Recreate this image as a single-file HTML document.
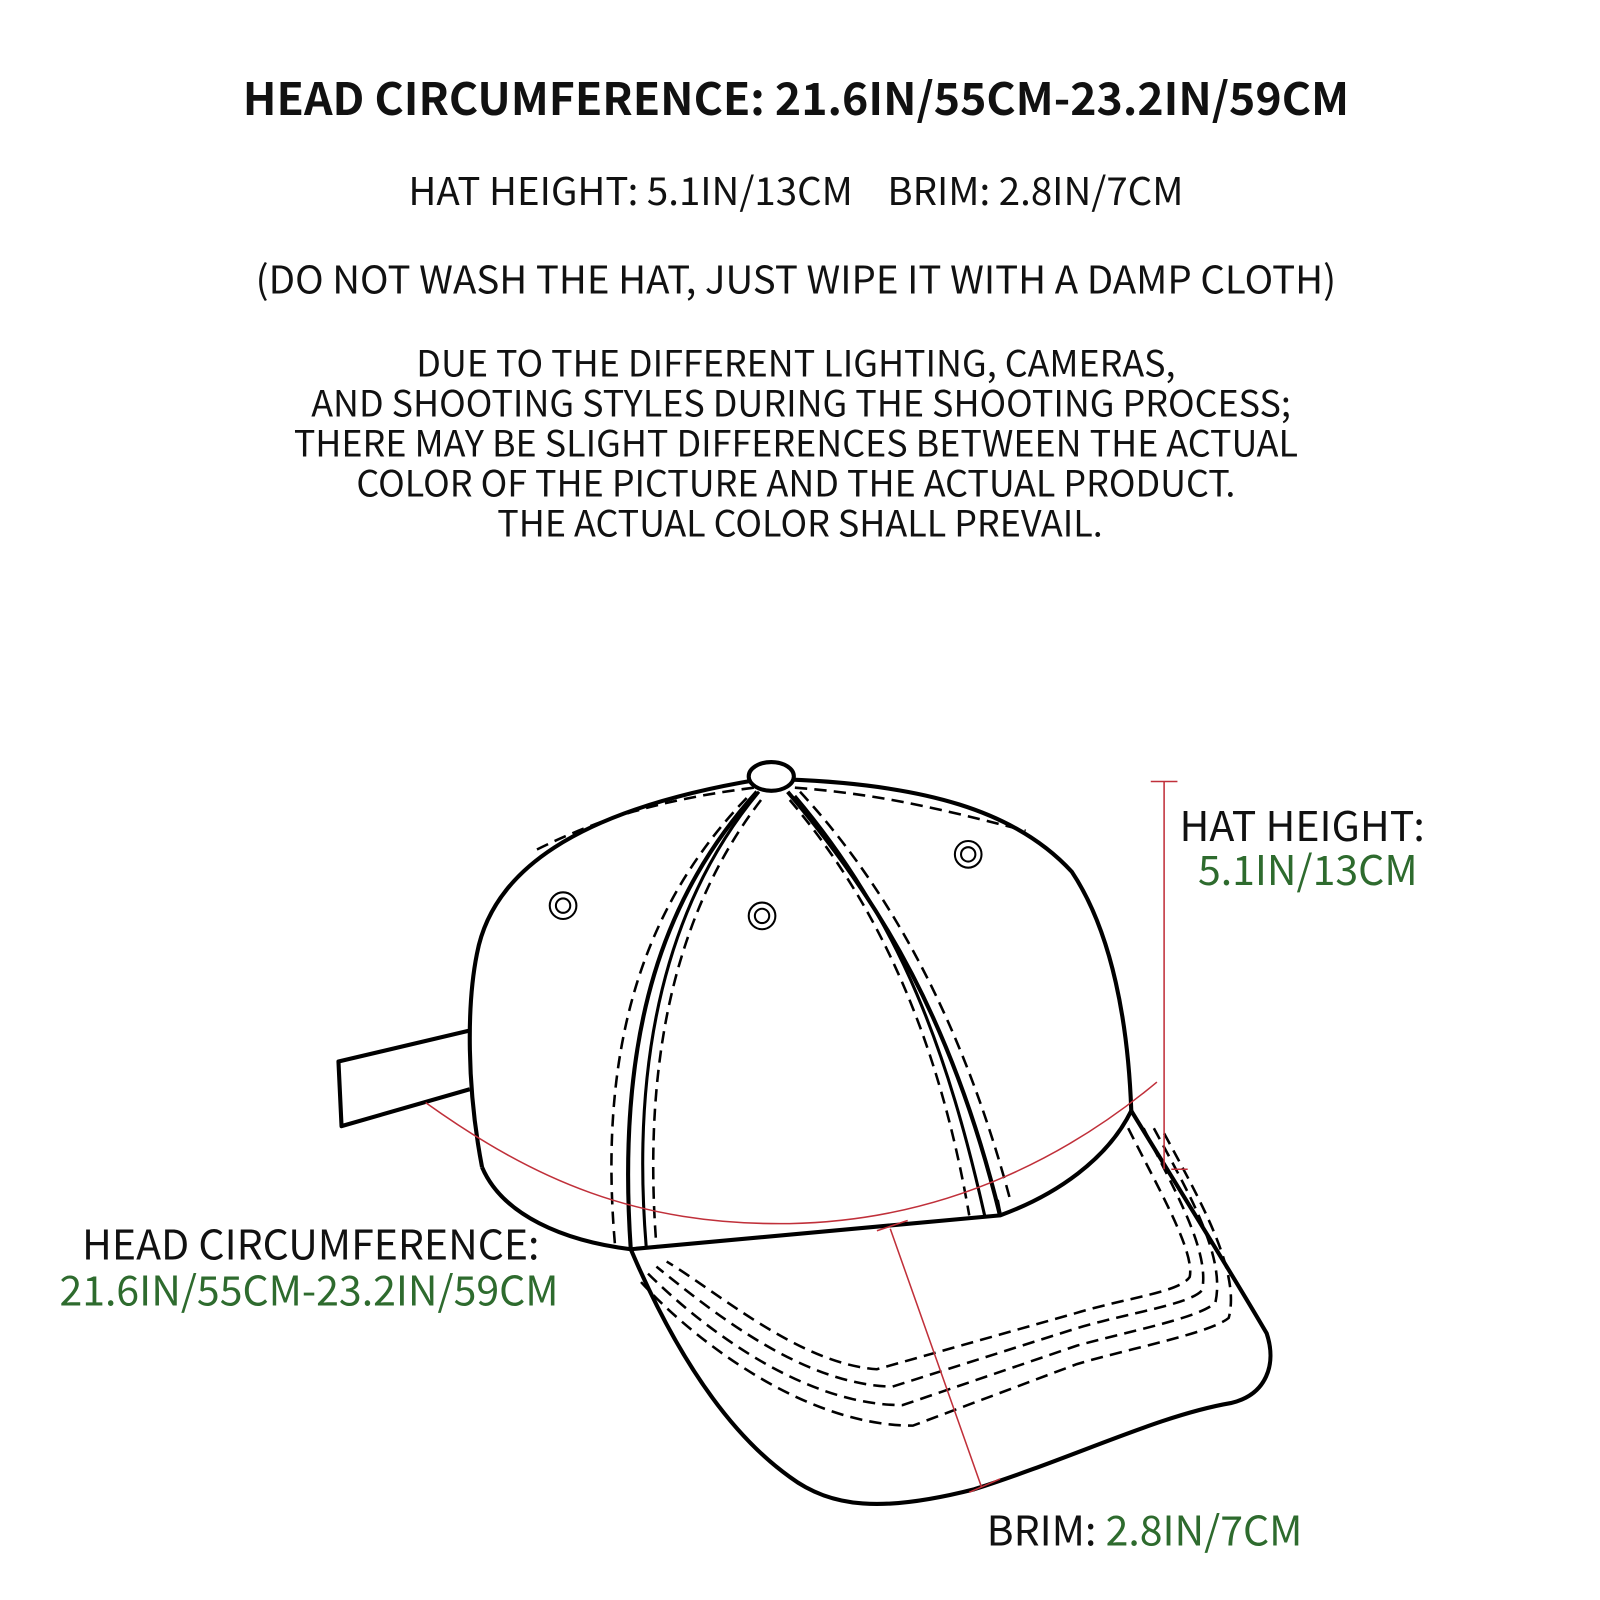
<!DOCTYPE html>
<html><head><meta charset="utf-8"><style>
html,body{margin:0;padding:0;background:#fff;width:1600px;height:1600px;overflow:hidden}
svg{display:block}
text{font-family:"Noto Sans CJK SC","Liberation Sans",sans-serif;fill:#111}
.g{fill:#2e6b2e}
</style></head><body>
<svg width="1600" height="1600" viewBox="0 0 1560 1560" xmlns="http://www.w3.org/2000/svg">
<g text-anchor="middle">
<text x="776" y="112" font-size="43.5" font-weight="bold">HEAD CIRCUMFERENCE: 21.6IN/55CM-23.2IN/59CM</text>
<text x="776" y="200" font-size="37.5">HAT HEIGHT: 5.1IN/13CM &#160;&#160;&#160;BRIM: 2.8IN/7CM</text>
<text x="776" y="286" font-size="37.5">(DO NOT WASH THE HAT, JUST WIPE IT WITH A DAMP CLOTH)</text>
<text x="776" y="367" font-size="35">DUE TO THE DIFFERENT LIGHTING, CAMERAS,</text>
<text x="781" y="406" font-size="35">AND SHOOTING STYLES DURING THE SHOOTING PROCESS;</text>
<text x="776" y="445" font-size="35">THERE MAY BE SLIGHT DIFFERENCES BETWEEN THE ACTUAL</text>
<text x="776" y="484" font-size="35">COLOR OF THE PICTURE AND THE ACTUAL PRODUCT.</text>
<text x="780" y="523" font-size="35">THE ACTUAL COLOR SHALL PREVAIL.</text>
</g>
<g fill="none" stroke="#000" stroke-width="4" stroke-linejoin="round">
<path d="M457 1005 L330 1035 L333 1098 L458 1062"/>
<path d="M470 1138 C455 1060 455 980 465 930 C480 850 560 790 740 760"/>
<path d="M768 760 C900 765 990 790 1045 850 C1085 910 1100 1000 1103 1083"/>
<path d="M470 1138 C490 1185 550 1210 615 1218 L975 1185 L972 1170 M975 1185 C1030 1165 1080 1130 1103 1083"/>
<path d="M615 1218 C650 1300 700 1390 770 1440 C810 1470 860 1475 950 1452 C1050 1420 1130 1380 1200 1368 C1235 1360 1245 1330 1235 1300 C1200 1240 1150 1160 1103 1083"/>
<ellipse cx="752" cy="757" rx="22" ry="14" fill="#fff"/>
<path d="M738 772 C650 870 600 1000 615 1218"/>
<path d="M768 772 C860 880 930 1000 975 1185"/>
<path d="M960 1185 C925 1030 880 900 775 776" stroke-width="3"/>
<path d="M630 1215 C615 1030 650 880 740 772" stroke-width="3"/>
</g>
<g fill="none" stroke="#000" stroke-width="2.5" stroke-dasharray="12 7">
<path d="M728 778 C640 870 580 1000 600 1218"/>
<path d="M742 780 C665 880 625 1020 640 1215"/>
<path d="M780 772 C880 880 945 1020 985 1170"/>
<path d="M770 780 C855 880 915 1010 945 1185"/>
<path d="M735 768 C640 780 580 800 520 830"/>
<path d="M775 768 C870 775 940 795 1000 810"/>
<path d="M1100 1100 C1130 1160 1165 1220 1160 1245 C1150 1260 1100 1265 1050 1280 L855 1335 C780 1330 700 1260 650 1230"/>
<path d="M1115 1100 C1145 1160 1180 1220 1172 1258 C1160 1272 1100 1280 1050 1295 L870 1352 C780 1350 690 1275 640 1235"/>
<path d="M1125 1100 C1160 1165 1195 1225 1185 1270 C1170 1285 1100 1298 1050 1312 L880 1370 C780 1370 680 1290 630 1240"/>
<path d="M1135 1105 C1170 1170 1210 1240 1198 1285 C1180 1300 1100 1315 1050 1330 L890 1390 C780 1390 670 1300 625 1250"/>
</g>
<g fill="none" stroke="#000" stroke-width="2">
<circle cx="549" cy="883" r="13"/><circle cx="549" cy="883" r="7"/>
<circle cx="743" cy="893" r="13"/><circle cx="743" cy="893" r="7"/>
<circle cx="944" cy="833" r="13"/><circle cx="944" cy="833" r="7"/>
</g>
<g fill="none" stroke="#c0303a" stroke-width="1.5">
<path d="M1135 762 L1135 1140 M1122 762 L1148 762 M1142 1140 L1158 1140"/>
<path d="M415 1075 C520 1150 620 1195 770 1193 C930 1190 1050 1120 1128 1055"/>
<path d="M868 1198 L957 1450 M855 1200 L885 1190 M945 1455 L975 1442"/>
</g>
<text x="1150" y="820" font-size="40">HAT HEIGHT:</text>
<text x="1168" y="863" font-size="40" class="g">5.1IN/13CM</text>
<text x="80" y="1228" font-size="40">HEAD CIRCUMFERENCE:</text>
<text x="58" y="1273" font-size="40" class="g">21.6IN/55CM-23.2IN/59CM</text>
<text x="962" y="1507" font-size="40">BRIM: <tspan class="g">2.8IN/7CM</tspan></text>
</svg>
</body></html>
